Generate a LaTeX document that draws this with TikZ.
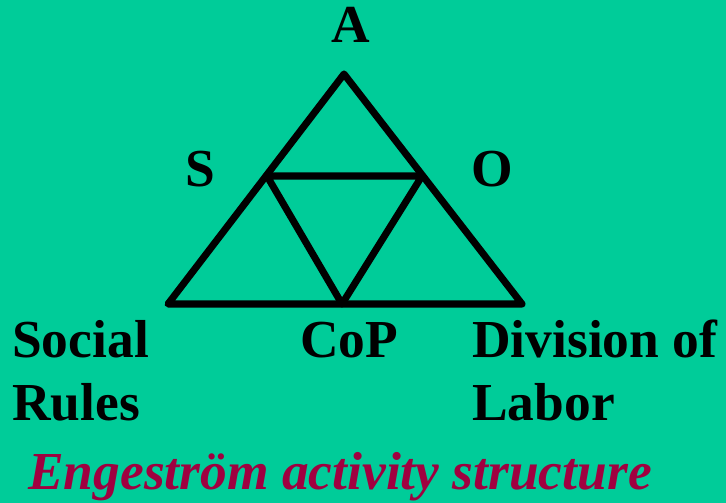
\documentclass[tikz,border=0pt]{standalone}
\usepackage{fontspec}
\setmainfont{Liberation Serif}
\usetikzlibrary{positioning}

\definecolor{bggreen}{RGB}{0,204,153}
\definecolor{titlered}{RGB}{160,0,64}

\tikzset{
  edge/.style={line width=5pt, line join=round},
  lbl/.style={font=\fontsize{38}{44}\selectfont\bfseries, inner sep=0pt},
}

\begin{document}
\begin{tikzpicture}[x=0.025cm, y=-0.025cm]
  % Background
  \fill[bggreen] (0,0) rectangle (726,503);
  \useasboundingbox (0,0) rectangle (726,503);

  % Triangle corners and inner points
  \coordinate (top) at (344,74);
  \coordinate (bl) at (168,304);
  \coordinate (br) at (522,304);
  \coordinate (ml) at (267,176);
  \coordinate (mr) at (422,176);
  \coordinate (mb) at (342,304);

  % Outer triangle
  \draw[edge] (top) -- (bl) -- (br) -- cycle;
  % Inner triangle
  \draw[edge] (ml) -- (mr) -- (mb) -- cycle;

  % Corner labels
  \node[lbl, anchor=base] (a) at (351,43) {A};
  \node[lbl, anchor=base] (s) at (200,187) {S};
  \node[lbl, anchor=base] (o) at (492,187) {O};

  % Bottom labels
  \node[lbl, anchor=base west] (social) at (12,358) {Social};
  \node[lbl, anchor=base west] (rules) at (12,421) {Rules};
  \node[lbl, anchor=base] (cop) at (349,358) {CoP};
  \node[lbl, anchor=base west] (division) at (472,358) {Division of};
  \node[lbl, anchor=base west] (labor) at (472,421) {Labor};

  % Title
  \node[lbl, anchor=base west, font=\fontsize{38}{44}\selectfont\bfseries\itshape, text=titlered] (title) at (28,490) {Engeström activity structure};
\end{tikzpicture}
\end{document}
